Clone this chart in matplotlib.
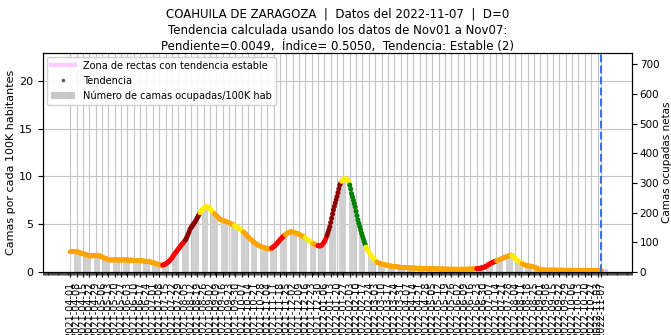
import numpy as np
import pandas as pd
import matplotlib
matplotlib.use("Agg")
import matplotlib.pyplot as plt
import matplotlib.dates as mdates
from matplotlib.lines import Line2D
from matplotlib.patches import Patch

# Camas ocupadas por cada 100K habitantes (valor diario), por mes
abr21 = [2.13,2.14,2.15,2.15,2.14,2.14,2.13,2.13,2.10,2.07,2.04,2.00,1.97,1.94,1.91,1.88,1.85,1.82,1.79,1.76,1.73,1.70,1.68,1.68,1.69,1.70,1.72,1.74,1.75,1.75]
may21 = [1.74,1.72,1.70,1.68,1.64,1.59,1.54,1.49,1.44,1.40,1.37,1.34,1.31,1.28,1.26,1.26,1.27,1.27,1.28,1.28,1.27,1.27,1.26,1.26,1.25,1.25,1.26,1.26,1.27,1.27,1.26]
jun21 = [1.26,1.26,1.25,1.25,1.24,1.24,1.23,1.23,1.22,1.22,1.22,1.21,1.21,1.20,1.20,1.19,1.19,1.18,1.17,1.16,1.15,1.14,1.13,1.12,1.11,1.09,1.08,1.06,1.04,1.01]
jul21 = [0.98,0.95,0.92,0.89,0.86,0.84,0.81,0.78,0.75,0.72,0.70,0.72,0.75,0.79,0.84,0.90,0.97,1.05,1.14,1.24,1.35,1.46,1.62,1.78,1.90,2.02,2.14,2.26,2.39,2.52,2.65]
ago21 = [2.76,2.88,3.00,3.11,3.23,3.35,3.55,3.75,3.96,4.20,4.48,4.62,4.76,4.90,5.04,5.17,5.30,5.48,5.66,5.84,6.02,6.20,6.32,6.44,6.55,6.65,6.73,6.80,6.82,6.82,6.80]
sep21 = [6.72,6.60,6.50,6.40,6.30,6.20,6.10,6.00,5.90,5.80,5.70,5.60,5.50,5.46,5.43,5.40,5.36,5.33,5.30,5.26,5.22,5.18,5.14,5.10,5.05,5.00,4.95,4.90,4.85,4.80]
oct21 = [4.74,4.68,4.62,4.56,4.50,4.42,4.34,4.25,4.17,4.08,4.00,3.90,3.80,3.70,3.60,3.50,3.42,3.33,3.25,3.16,3.08,3.00,2.94,2.88,2.82,2.76,2.70,2.66,2.63,2.60,2.57]
nov21 = [2.53,2.50,2.48,2.46,2.44,2.42,2.40,2.44,2.50,2.57,2.64,2.72,2.80,2.90,3.01,3.12,3.23,3.35,3.45,3.55,3.65,3.74,3.82,3.90,3.97,4.04,4.10,4.15,4.20,4.21]
dic21 = [4.20,4.18,4.16,4.13,4.10,4.06,4.02,3.98,3.94,3.90,3.85,3.80,3.75,3.70,3.65,3.60,3.52,3.44,3.36,3.28,3.20,3.14,3.08,3.02,2.96,2.90,2.85,2.82,2.79,2.76,2.74]
ene22 = [2.72,2.74,2.80,2.90,3.03,3.18,3.35,3.58,3.84,4.13,4.43,4.74,5.18,5.62,6.06,6.50,6.85,7.20,7.55,7.90,8.30,8.70,9.10,9.30,9.48,9.62,9.70,9.74,9.74,9.72,9.68]
feb22 = [9.58,9.46,9.10,8.68,8.20,7.85,7.50,7.15,6.80,6.35,5.90,5.45,5.10,4.75,4.40,4.05,3.75,3.45,3.16,2.88,2.60,2.42,2.24,2.08,1.92,1.76,1.60,1.50]
mar22 = [1.40,1.30,1.21,1.12,1.05,0.98,0.94,0.90,0.87,0.84,0.81,0.79,0.77,0.75,0.73,0.71,0.69,0.66,0.63,0.62,0.61,0.60,0.58,0.57,0.56,0.55,0.54,0.53,0.51,0.49,0.48]
abr22 = [0.48,0.47,0.47,0.46,0.46,0.45,0.45,0.44,0.44,0.43,0.43,0.42,0.42,0.41,0.41,0.40,0.40,0.40,0.39,0.39,0.39,0.38,0.38,0.38,0.37,0.37,0.37,0.36,0.36,0.36]
may22 = [0.35,0.35,0.35,0.34,0.34,0.34,0.33,0.33,0.33,0.33,0.32,0.32,0.32,0.32,0.31,0.31,0.31,0.31,0.30,0.30,0.30,0.30,0.30,0.29,0.29,0.29,0.29,0.29,0.29,0.28,0.28]
jun22 = [0.28,0.28,0.28,0.28,0.28,0.28,0.29,0.29,0.29,0.29,0.29,0.30,0.30,0.30,0.30,0.31,0.31,0.32,0.32,0.33,0.33,0.34,0.35,0.36,0.37,0.38,0.40,0.42,0.44,0.47]
jul22 = [0.50,0.54,0.59,0.64,0.70,0.77,0.84,0.90,0.94,0.98,1.02,1.06,1.10,1.14,1.18,1.22,1.26,1.30,1.33,1.37,1.41,1.45,1.49,1.53,1.57,1.61,1.65,1.69,1.72,1.75,1.76]
ago22 = [1.72,1.65,1.55,1.45,1.35,1.26,1.19,1.12,1.05,0.98,0.92,0.86,0.81,0.77,0.73,0.70,0.68,0.66,0.64,0.62,0.60,0.59,0.57,0.56,0.52,0.48,0.44,0.40,0.36,0.33,0.30]
sep22 = [0.27,0.25,0.23,0.21,0.20,0.20,0.20,0.20,0.20,0.20,0.20,0.20,0.20,0.20,0.20,0.20,0.20,0.20,0.19,0.19,0.19,0.19,0.19,0.19,0.19,0.19,0.18,0.18,0.18,0.18]
oct22 = [0.18,0.18,0.18,0.17,0.17,0.17,0.17,0.17,0.17,0.16,0.16,0.16,0.16,0.16,0.16,0.15,0.15,0.15,0.15,0.15,0.15,0.15,0.15,0.14,0.14,0.14,0.14,0.14,0.14,0.14,0.14]
nov22 = [0.14,0.14,0.14,0.14,0.14,0.14,0.14]

# Clasificación diaria de la tendencia:
# o = estable, y = transición, r = creciente, d = muy creciente, g = decreciente
tend_abr21 = "o" * 30
tend_may21 = "o" * 31
tend_jun21 = "o" * 30
tend_jul21 = "o" * 11 + "r" * 20
tend_ago21 = "r" * 5 + "d" * 16 + "y" * 10
tend_sep21 = "y" * 6 + "o" * 22 + "y" * 2
tend_oct21 = "y" * 8 + "o" * 23
tend_nov21 = "o" * 8 + "r" * 15 + "o" * 7
tend_dic21 = "o" * 15 + "y" * 9 + "o" * 5 + "r" * 2
tend_ene22 = "r" * 8 + "d" * 16 + "y" * 7
tend_feb22 = "y" * 2 + "g" * 18 + "y" * 8
tend_mar22 = "y" * 4 + "o" * 27
tend_abr22 = "o" * 30
tend_may22 = "o" * 31
tend_jun22 = "o" * 22 + "r" * 8
tend_jul22 = "r" * 14 + "o" * 17
tend_ago22 = "y" * 11 + "o" * 20
tend_sep22 = "o" * 30
tend_oct22 = "o" * 31
tend_nov22 = "o" * 7

fecha_inicio = "2021-04-01"
fecha_datos = "2022-11-07"
poblacion_100k = 32.2          # habitantes / 100K
pendiente = 0.0049
indice = 0.5050

valores = np.array(abr21 + may21 + jun21 + jul21 + ago21 + sep21 + oct21 + nov21 + dic21
                   + ene22 + feb22 + mar22 + abr22 + may22 + jun22 + jul22 + ago22
                   + sep22 + oct22 + nov22)
tendencia = (tend_abr21 + tend_may21 + tend_jun21 + tend_jul21 + tend_ago21 + tend_sep21
             + tend_oct21 + tend_nov21 + tend_dic21 + tend_ene22 + tend_feb22 + tend_mar22
             + tend_abr22 + tend_may22 + tend_jun22 + tend_jul22 + tend_ago22 + tend_sep22
             + tend_oct22 + tend_nov22)
fechas = pd.date_range(fecha_inicio, fecha_datos, freq="D")

colores_tend = {"o": "#ffa500", "y": "#ffee00", "r": "#ff0000", "d": "#8b0000", "g": "#008000"}
colores = [colores_tend[c] for c in tendencia]

fig = plt.figure(figsize=(6.71, 3.35), dpi=100)
ax = fig.add_axes([43 / 671, 1 - 272 / 335, 589 / 671, 219 / 335])

# barras diarias
ax.bar(fechas, valores, width=0.7, color="#d0d0d0", zorder=1)

# puntos de tendencia
ax.scatter(fechas, valores, c=colores, s=13, marker="o", linewidths=0, zorder=3)

# zona de rectas con tendencia estable
fin = pd.Timestamp(fecha_datos)
x_zona = [fin, fin + pd.Timedelta(days=6)]
for m in np.linspace(-0.012, 0.012, 7):
    ax.plot(x_zona, [valores[-1], valores[-1] + m * 6], color="#ffb3ff", lw=1.5,
            alpha=0.6, zorder=2)

# fecha de datos
ax.axvline(fin, color="#3f6fe8", ls="--", lw=1.5, zorder=4)

x0 = pd.Timestamp(fecha_inicio) - pd.Timedelta(days=30)
x1 = fin + pd.Timedelta(days=34)
ax.set_xlim(x0, x1)
y_top = 22.9
ax.set_ylim(0, y_top)

ticks = list(pd.date_range(fecha_inicio, fecha_datos, freq="7D"))
if ticks[-1] != fin:
    ticks.append(fin)
ax.set_xticks(ticks)
ax.set_xticklabels([t.strftime("%Y-%m-%d") for t in ticks], rotation=90, fontsize=7)
ax.xaxis.set_minor_locator(mdates.DayLocator())
ax.tick_params(axis="x", which="minor", length=2, width=0.5)
ax.tick_params(axis="x", which="major", length=3.5, width=0.8)
ax.set_yticks([0, 5, 10, 15, 20])
ax.tick_params(axis="y", labelsize=8)
ax.grid(True, which="major", color="#c4c4c4", lw=0.8, zorder=0)
ax.set_axisbelow(True)
ax.set_ylabel("Camas por cada 100K habitantes", fontsize=8, labelpad=2)

ax2 = ax.twinx()
ax2.set_ylim(0, y_top * poblacion_100k)
ax2.set_yticks(range(0, 701, 100))
ax2.tick_params(axis="y", labelsize=7.5, pad=2)
ax2.set_ylabel("Camas ocupadas netas", fontsize=7.5, labelpad=2)

handles = [
    Line2D([], [], color="#ffccff", lw=3),
    Line2D([], [], color="#555555", marker="o", ls="none", markersize=1.5),
    Patch(facecolor="#c8c8c8", edgecolor="none"),
]
labels = ["Zona de rectas con tendencia estable", "Tendencia",
          "Número de camas ocupadas/100K hab"]
ax2.legend(handles, labels, loc="upper left", fontsize=7, framealpha=0.9,
           handlelength=2.5, borderaxespad=0.4)

titulo = ("COAHUILA DE ZARAGOZA  |  Datos del {}  |  D=0\n"
          "Tendencia calculada usando los datos de Nov01 a Nov07:\n"
          "Pendiente={:.4f},  Índice= {:.4f},  Tendencia: Estable (2)").format(
              fecha_datos, pendiente, indice)
ax.set_title(titulo, fontsize=8.5, pad=2.5, linespacing=1.3)

fig.savefig("out.png", dpi=100)
